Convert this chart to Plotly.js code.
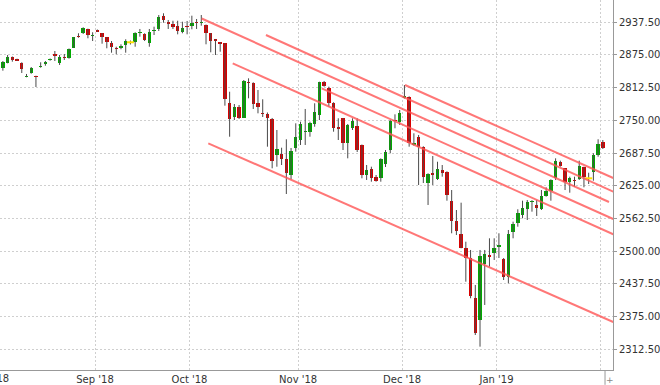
<!DOCTYPE html>
<html>
<head>
<meta charset="utf-8">
<script src="https://cdn.plot.ly/plotly-3.0.1.min.js"></script>
<style>html,body{margin:0;padding:0;background:#fff;}#chart{width:660px;height:385px;}</style>
</head>
<body>
<div id="chart"></div>
<script>
const dates = [
"2018-08-06","2018-08-07","2018-08-08","2018-08-09","2018-08-10","2018-08-13","2018-08-14","2018-08-15","2018-08-16","2018-08-17",
"2018-08-20","2018-08-21","2018-08-22","2018-08-23","2018-08-24","2018-08-27","2018-08-28","2018-08-29","2018-08-30","2018-08-31",
"2018-09-03","2018-09-04","2018-09-05","2018-09-06","2018-09-07","2018-09-10","2018-09-11","2018-09-12","2018-09-13","2018-09-14",
"2018-09-17","2018-09-18","2018-09-19","2018-09-20","2018-09-21","2018-09-24","2018-09-25","2018-09-26","2018-09-27","2018-09-28",
"2018-10-01","2018-10-02","2018-10-03","2018-10-04","2018-10-05","2018-10-08","2018-10-09","2018-10-10","2018-10-11","2018-10-12",
"2018-10-15","2018-10-16","2018-10-17","2018-10-18","2018-10-19","2018-10-22","2018-10-23","2018-10-24","2018-10-25","2018-10-26",
"2018-10-29","2018-10-30","2018-10-31",
"2018-11-01","2018-11-02","2018-11-05","2018-11-06","2018-11-07","2018-11-08","2018-11-09","2018-11-12","2018-11-13","2018-11-14",
"2018-11-15","2018-11-16","2018-11-19","2018-11-20","2018-11-21","2018-11-22","2018-11-23","2018-11-26","2018-11-27","2018-11-28",
"2018-11-29","2018-11-30",
"2018-12-03","2018-12-04","2018-12-05","2018-12-06","2018-12-07","2018-12-10","2018-12-11","2018-12-12","2018-12-13","2018-12-14",
"2018-12-17","2018-12-18","2018-12-19","2018-12-20","2018-12-21","2018-12-24","2018-12-26","2018-12-27","2018-12-28","2018-12-31",
"2019-01-02","2019-01-03","2019-01-04","2019-01-07","2019-01-08","2019-01-09","2019-01-10","2019-01-11","2019-01-14","2019-01-15",
"2019-01-16","2019-01-17","2019-01-18","2019-01-21","2019-01-22","2019-01-23","2019-01-24","2019-01-25","2019-01-28","2019-01-29",
"2019-01-30","2019-01-31",
"2019-02-01"
];

const openP = [
2849.2,2860.3,2870.6,2866.8,2859.7,2833.5,2840.0,2834.3,2851.5,2857.2,
2864.9,2876.9,2860.3,2871.7,2868.7,2888.9,2911.9,2916.5,2924.7,2911.3,
2922.8,2916.5,2908.8,2897.3,2888.9,2888.9,2894.1,2899.3,2899.3,2916.5,
2915.1,2897.3,2920.9,2924.7,2949.5,2938.6,2934.2,2931.0,2919.5,2931.0,
2930.4,2937.5,2935.6,2932.3,2916.5,2905.0,2899.3,2897.3,2782.7,2755.9,
2776.2,2755.1,2823.9,2822.0,2783.8,2764.7,2762.2,2752.7,2683.9,2685.2,
2675.6,2645.6,2696.7,
2712.5,2728.4,2728.4,2743.1,2760.3,2822.8,2811.3,2783.8,2737.9,2754.0,
2707.4,2736.0,2739.9,2703.0,2645.6,2656.5,2641.8,2640.5,2666.1,2693.4,
2750.7,2747.5,
2793.4,2795.3,2703.0,2718.8,2699.7,2629.8,2648.9,2638.0,2655.2,2651.9,
2595.9,2558.3,2532.9,2505.5,2486.4,2410.0,2368.5,2474.9,2492.7,2497.1,
2508.6,2484.5,2451.2,2537.3,2553.3,2569.2,2580.6,2594.0,2588.3,2580.6,
2605.5,2615.0,2640.5,2669.9,2658.4,2632.8,2636.1,2637.4,2660.3,2639.3,
2650.8,2683.9,
2708.1
];

const highP = [
2863.5,2875.0,2872.1,2867.9,2861.0,2838.7,2852.0,2835.4,2861.0,2863.5,
2868.3,2882.6,2875.0,2876.9,2887.4,2909.4,2916.5,2927.9,2925.3,2918.4,
2923.7,2917.0,2909.4,2901.7,2890.8,2895.4,2905.0,2902.7,2918.4,2924.7,
2916.5,2924.7,2929.1,2951.4,2954.7,2941.9,2940.5,2940.5,2938.6,2940.0,
2950.1,2943.8,2951.4,2933.3,2917.0,2905.6,2899.8,2897.9,2804.8,2781.3,
2779.4,2827.2,2830.4,2822.8,2808.1,2790.3,2765.1,2754.6,2731.6,2697.8,
2713.9,2697.2,2744.4,
2747.5,2771.8,2747.5,2782.7,2823.9,2825.3,2814.4,2784.6,2754.0,2754.6,
2743.1,2754.0,2754.0,2703.9,2664.7,2661.5,2645.6,2677.5,2693.4,2750.7,
2761.6,2769.9,
2817.6,2796.0,2725.3,2722.1,2700.5,2648.9,2681.9,2671.0,2664.7,2652.7,
2616.9,2578.7,2592.7,2518.1,2502.3,2435.4,2502.3,2502.3,2524.6,2524.6,
2534.2,2487.0,2540.5,2556.4,2580.1,2596.5,2597.8,2597.5,2597.8,2616.9,
2622.1,2637.4,2677.5,2673.0,2659.0,2642.4,2642.4,2673.0,2661.5,2650.0,
2687.1,2713.9,
2712.5
];

const lowP = [
2845.0,2859.1,2862.2,2863.5,2840.6,2832.4,2839.2,2813.8,2850.7,2854.5,
2864.1,2863.5,2855.9,2865.4,2867.9,2888.4,2908.0,2915.1,2906.9,2901.7,
2918.9,2896.6,2887.8,2879.4,2876.3,2885.9,2879.4,2895.1,2890.8,2910.0,
2901.7,2890.8,2913.2,2920.9,2936.7,2924.7,2924.7,2914.5,2916.5,2914.5,
2924.1,2924.7,2931.0,2895.4,2880.1,2875.0,2881.3,2778.1,2718.8,2750.7,
2752.7,2754.6,2792.2,2771.8,2763.5,2756.5,2699.7,2658.4,2661.5,2664.7,
2609.3,2637.4,2690.2,
2703.0,2703.0,2718.8,2737.9,2750.7,2814.4,2776.2,2728.4,2712.5,2693.4,
2677.5,2731.6,2689.6,2639.3,2636.1,2632.8,2632.8,2632.8,2660.9,2687.1,
2734.9,2741.2,
2791.8,2699.7,2701.6,2626.5,2630.3,2588.3,2626.5,2636.1,2642.4,2596.5,
2534.2,2530.9,2505.5,2441.7,2410.0,2339.8,2317.5,2397.2,2470.4,2483.2,
2487.0,2444.9,2438.6,2524.6,2546.8,2562.9,2559.6,2575.5,2567.3,2578.7,
2604.2,2596.5,2636.1,2661.5,2616.9,2611.8,2623.3,2636.1,2622.1,2628.4,
2634.7,2680.6,
2695.3
];

const closeP = [
2861.6,2871.2,2865.4,2864.1,2847.6,2834.8,2850.7,2832.4,2854.0,2861.0,
2866.8,2873.1,2871.7,2868.7,2886.5,2908.8,2909.4,2926.0,2913.8,2913.8,
2919.5,2910.0,2899.8,2890.8,2886.5,2892.2,2901.7,2899.3,2916.5,2918.4,
2903.6,2919.5,2922.8,2948.2,2941.9,2933.7,2929.1,2920.9,2927.2,2927.9,
2936.7,2935.6,2937.5,2916.5,2902.3,2902.3,2896.6,2790.3,2752.7,2775.0,
2755.1,2825.3,2822.0,2780.7,2776.2,2761.6,2755.1,2672.4,2694.7,2675.6,
2650.0,2692.1,2717.7,
2743.1,2730.3,2745.6,2766.6,2823.4,2816.3,2783.8,2734.9,2733.5,2706.2,
2741.2,2749.4,2693.4,2645.6,2655.2,2640.5,2634.7,2676.2,2689.0,2748.8,
2747.9,2763.5,
2796.6,2706.2,2707.4,2699.7,2641.2,2647.6,2646.2,2656.5,2650.0,2607.4,
2557.7,2538.6,2506.7,2487.6,2414.9,2343.1,2490.8,2494.6,2488.3,2506.7,
2512.4,2451.2,2532.9,2551.4,2572.4,2582.0,2593.4,2596.1,2582.0,2605.5,
2615.0,2636.1,2673.0,2663.4,2632.8,2639.3,2634.2,2663.4,2641.2,2639.3,
2683.9,2704.9,
2696.7
];

// month tick labels (for each month start inside the view)
const monthLabels = ["Sep '18","Oct '18","Nov '18","Dec '18","Jan '19",""];
const firstMonthLabel = "Aug '18";

// channel lines: start/end positions (bar index) and prices
const chX0 = [42.08, 55.69, 48.65, 43.48, 85.12, 67.49];
const chY0 = [2944.8, 2913.2, 2859.1, 2706.2, 2817.6, 2811.3];
const chX1 = [128.3, 129.2, 129.2, 129.2, 129.2, 129.2];
const chY1 = [2594.0, 2613.7, 2532.3, 2364.7, 2639.9, 2561.5];

// ---- build traces ----
const idx = dates.map((d, i) => i);
const tickvals = [];
for (let i = 1; i < dates.length; i++) {
  if (dates[i].slice(0, 7) !== dates[i - 1].slice(0, 7)) tickvals.push(i - 0.5);
}

const GREEN = '#00aa00', RED = '#d80000', DOJI = '#ffe000';

const wx = [], wy = [];
idx.forEach(i => { wx.push(i, i, null); wy.push(lowP[i], highP[i], null); });

const bBase = [], bLen = [], bCol = [];
idx.forEach(i => {
  const o = openP[i], c = closeP[i];
  bBase.push(Math.min(o, c));
  bLen.push(Math.abs(c - o));
  bCol.push(c > o ? GREEN : (c < o ? RED : 'rgba(0,0,0,0)'));
});

const dx = [], dy = [];
idx.forEach(i => { if (openP[i] === closeP[i]) { dx.push(i); dy.push(openP[i]); } });

const lx = [], ly = [];
chX0.forEach((x, k) => { lx.push(x, chX1[k], null); ly.push(chY0[k], chY1[k], null); });

const traces = [
  { type: 'scatter', mode: 'lines', x: wx, y: wy, line: { color: '#4a4a4a', width: 1 }, hoverinfo: 'skip', connectgaps: false },
  { type: 'bar', x: idx, y: bLen, base: bBase, width: 0.72, marker: { color: bCol, line: { width: 0 } }, hoverinfo: 'skip' },
  { type: 'scatter', mode: 'markers', x: dx, y: dy, marker: { symbol: 'line-ew', size: 5, line: { color: DOJI, width: 2 } }, hoverinfo: 'skip' },
  { type: 'scatter', mode: 'lines', x: lx, y: ly, line: { color: 'rgba(255,85,85,0.8)', width: 2 }, hoverinfo: 'skip', connectgaps: false }
];

const FONT = { family: 'DejaVu Sans, Verdana, sans-serif', size: 10, color: '#333' };

const layout = {
  width: 660, height: 385,
  margin: { l: 0, r: 47, t: 0, b: 15, pad: 0 },
  paper_bgcolor: '#fff', plot_bgcolor: '#fff',
  showlegend: false,
  bargap: 0,
  font: FONT,
  xaxis: {
    type: 'linear', range: [-0.61, 129.15],
    tickmode: 'array', tickvals: tickvals, ticktext: monthLabels,
    showgrid: true, gridcolor: '#cfcfcf', griddash: '2px,2px', gridwidth: 1,
    showline: true, linecolor: '#999', linewidth: 1,
    ticks: '', zeroline: false, tickfont: FONT, fixedrange: true
  },
  yaxis: {
    side: 'right', range: [2272.9, 2980.1],
    tickmode: 'linear', tick0: 2312.5, dtick: 62.5, tickformat: '.2f',
    showgrid: true, gridcolor: '#cfcfcf', griddash: '2px,2px', gridwidth: 1,
    showline: true, linecolor: '#999', linewidth: 1,
    ticks: 'outside', ticklen: 3, tickcolor: '#999',
    zeroline: false, tickfont: FONT, fixedrange: true
  },
  annotations: [
    { xref: 'paper', yref: 'paper', x: -0.0155, y: 0, yanchor: 'top', xanchor: 'center', yshift: -1,
      text: firstMonthLabel, showarrow: false, font: FONT },
    { xref: 'paper', yref: 'paper', x: 0.995, y: 0, yanchor: 'top', xanchor: 'center', yshift: -3,
      text: '+', showarrow: false, font: { family: 'DejaVu Sans', size: 9, color: '#888' } }
  ],
  shapes: [
    { type: 'line', xref: 'paper', yref: 'paper', x0: 0.987, x1: 0.987, y0: 0, y1: -0.04,
      line: { color: '#999', width: 1 } }
  ]
};

Plotly.newPlot('chart', traces, layout, { staticPlot: true, displayModeBar: false });
</script>
</body>
</html>
